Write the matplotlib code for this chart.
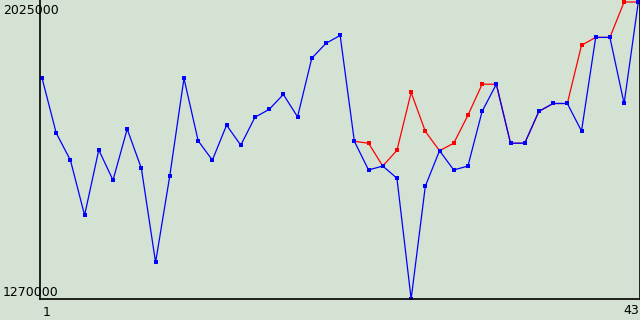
import numpy as np
import matplotlib.pyplot as plt

x = np.arange(1, 44)

blue = [1832000, 1692000, 1623000, 1483000, 1649000, 1572000, 1702000, 1602000,
        1363000, 1583000, 1831000, 1672000, 1623000, 1712000, 1661000, 1732000,
        1752000, 1790000, 1733000, 1882000, 1920000, 1940000, 1671000, 1598000,
        1608000, 1577000, 1270000, 1557000, 1647000, 1598000, 1608000, 1747000,
        1816000, 1666000, 1666000, 1747000, 1767000, 1767000, 1697000, 1935000,
        1935000, 1767000, 2025000]

red = [np.nan] * 22 + [1671000, 1666000, 1608000, 1648000, 1795000, 1696000,
                       1647000, 1666000, 1737000, 1816000, 1816000, 1666000,
                       1666000, 1747000, 1767000, 1767000, 1915000, 1935000,
                       1935000, 2025000, 2025000]

y_min, y_max = 1270000, 2025000
bg = "#d4e2d4"

fig = plt.figure(figsize=(6.4, 3.2), dpi=100, facecolor=bg)
ax = fig.add_axes([40 / 640, 21 / 320, 600 / 640, 299 / 320], facecolor=bg)

ax.plot(x, red, color="#ff0000", lw=0.9, marker="s", ms=2.8, mew=0, mfc="#ff0000")
ax.plot(x, blue, color="#0000ff", lw=0.9, marker="s", ms=2.8, mew=0, mfc="#0000ff")

ax.set_xlim(1 - 2 / 14.19, 43 + 1.7 / 14.19)
ax.set_ylim(y_min, y_min + 299 * (y_max - y_min) / 297)
ax.set_xticks([])
ax.set_yticks([])
ax.spines["top"].set_visible(False)
for s in ("left", "bottom", "right"):
    ax.spines[s].set_linewidth(1.2)
    ax.spines[s].set_color("black")

fig.text(3 / 640, 1 - 10 / 320, "2025000", fontsize=9, va="center", ha="left")
fig.text(3 / 640, 1 - 292 / 320, "1270000", fontsize=9, va="center", ha="left")
fig.text(47 / 640, 1 - 312 / 320, "1", fontsize=9, va="center", ha="center")
fig.text(631 / 640, 1 - 311 / 320, "43", fontsize=9, va="center", ha="center")

fig.savefig("out.png", dpi=100, facecolor=bg)
